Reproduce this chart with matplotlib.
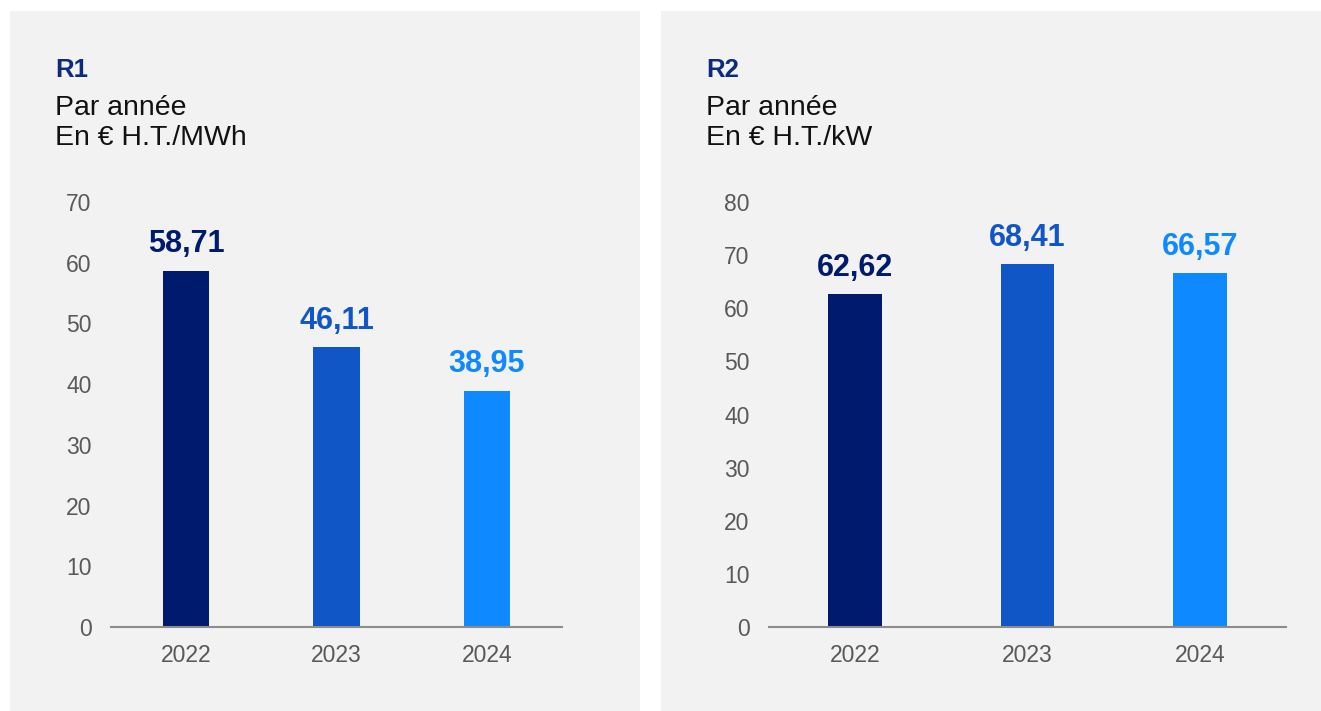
import matplotlib.pyplot as plt
from matplotlib.patches import Rectangle

plt.rcParams['font.family'] = ['Liberation Sans', 'DejaVu Sans']

years = ['2022', '2023', '2024']
r1_values = [58.71, 46.11, 38.95]
r2_values = [62.62, 68.41, 66.57]
r1_ticks = [0, 10, 20, 30, 40, 50, 60, 70]
r2_ticks = [0, 10, 20, 30, 40, 50, 60, 70, 80]
bar_colors = ['#001a6e', '#1156c6', '#0f89ff']

W, H = 1321, 711


def fx(px):
    return px / W


def fy(py):
    return 1 - py / H


def draw_panel(fig, rect_px, ax_px, title, sub1, sub2, values, ticks):
    # gray card behind the chart
    x0, y0, x1, y1 = rect_px
    fig.patches.append(Rectangle((fx(x0), fy(y1)), fx(x1 - x0), (y1 - y0) / H,
                                 transform=fig.transFigure, facecolor='#f2f2f2',
                                 edgecolor='none', zorder=-5))
    tx = x0 + 45
    fig.text(fx(tx), fy(77), title, fontsize=18.5, fontweight='bold', color='#0d2a80', va='baseline')
    fig.text(fx(tx), fy(115), sub1, fontsize=20.5, color='#111111', va='baseline')
    fig.text(fx(tx), fy(145), sub2, fontsize=20.5, color='#111111', va='baseline')

    l, r, t, b = ax_px
    ax = fig.add_axes([fx(l), fy(b), fx(r - l), (b - t) / H])
    ax.set_facecolor('none')
    xs = range(len(years))
    ax.bar(xs, values, width=0.31, color=bar_colors, zorder=2)
    for x, v, c in zip(xs, values, bar_colors):
        ax.annotate(f'{v:.2f}'.replace('.', ','), (x, v), xytext=(0, 13),
                    textcoords='offset points', ha='center', va='baseline',
                    fontsize=22, fontweight='bold', color=c)
    ax.set_xlim(-0.5, len(years) - 0.5)
    ax.set_ylim(0, ticks[-1])
    ax.set_yticks(ticks)
    ax.set_xticks(list(xs))
    ax.set_xticklabels(years)
    for s in ['top', 'right', 'left']:
        ax.spines[s].set_visible(False)
    ax.spines['bottom'].set_color('#8c8c8c')
    ax.spines['bottom'].set_linewidth(1.5)
    ax.spines['bottom'].set_zorder(3)
    ax.tick_params(axis='y', length=0, pad=14, labelsize=16.5, labelcolor='#595959')
    ax.tick_params(axis='x', length=0, pad=12, labelsize=16.5, labelcolor='#595959')
    return ax


fig = plt.figure(figsize=(W / 100, H / 100), dpi=100)
fig.patch.set_facecolor('white')

draw_panel(fig, (10, 11, 640, 711), (111, 562, 202, 627),
           'R1', 'Par année', 'En € H.T./MWh', r1_values, r1_ticks)
draw_panel(fig, (661, 11, 1321, 711), (769, 1286, 202, 627),
           'R2', 'Par année', 'En € H.T./kW', r2_values, r2_ticks)

fig.savefig('out.png', dpi=100)
